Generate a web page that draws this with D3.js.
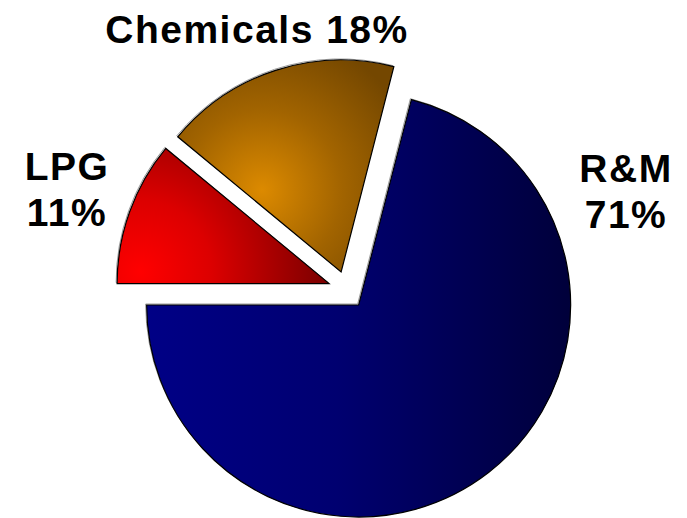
<!DOCTYPE html>
<html>
<head>
<meta charset="utf-8">
<script src="https://cdn.jsdelivr.net/npm/d3@7"></script>
<style>
  html, body { margin: 0; padding: 0; background: #fff; }
  svg { display: block; }
  text { font-family: "Liberation Sans", Arial, sans-serif; font-weight: bold; fill: #000; }
</style>
</head>
<body>
<svg id="chart" width="687" height="518"></svg>
<script>
// Business segments and their share of the total (%)
const segments = ["R&M", "LPG", "Chemicals"];
const shares = [71, 11, 18];
const labelLines = [["R&M", "71%"], ["LPG", "11%"], ["Chemicals 18%"]];

const cx = 347, cy = 290, radius = 212, explode = 19;
const deg = Math.PI / 180;
const start = 14.4 * deg;

const svg = d3.select("#chart");
const defs = svg.append("defs");

const pie = d3.pie().sort(null).value(d => d)
  .startAngle(start).endAngle(start + 2 * Math.PI);
const arc = d3.arc().innerRadius(0).outerRadius(radius);
const arcs = pie(shares);

const offset = d => {
  const mid = (d.startAngle + d.endAngle) / 2;
  return [Math.sin(mid) * explode, -Math.cos(mid) * explode];
};

// Shading for each slice, given in page coordinates and moved into the slice's own frame
const shading = [
  { type: "linear", x1: 146, y1: 0, x2: 572, y2: 0,
    stops: [[0, "#000086"], [0.45, "#000070"], [1, "#00003a"]] },
  { type: "radial", cx: 140, cy: 272, r: 205,
    stops: [[0, "#ff0000"], [0.35, "#dc0000"], [1, "#6c0000"]] },
  { type: "radial", cx: 262, cy: 190, r: 160,
    stops: [[0, "#dc8a00"], [0.5, "#a26400"], [1, "#744700"]] }
];

arcs.forEach((d, i) => {
  const o = offset(d);
  const dx = cx + o[0], dy = cy + o[1];
  const s = shading[i];
  const g = defs.append(s.type === "linear" ? "linearGradient" : "radialGradient")
    .attr("id", "shade-" + i)
    .attr("gradientUnits", "userSpaceOnUse");
  if (s.type === "linear") {
    g.attr("x1", s.x1 - dx).attr("y1", s.y1 - dy).attr("x2", s.x2 - dx).attr("y2", s.y2 - dy);
  } else {
    g.attr("cx", s.cx - dx).attr("cy", s.cy - dy).attr("r", s.r);
  }
  s.stops.forEach(([off, col]) => g.append("stop").attr("offset", off).attr("stop-color", col));
});

const slices = svg.append("g").attr("transform", `translate(${cx},${cy})`)
  .selectAll("g.slice").data(arcs).join("g")
  .attr("class", "slice")
  .attr("transform", d => { const o = offset(d); return `translate(${o[0]},${o[1]})`; });

// light bevel line behind each slice outline
slices.append("path")
  .attr("d", arc)
  .attr("transform", "translate(-1,-1)")
  .attr("fill", "none")
  .attr("stroke", "#9a9a9a")
  .attr("stroke-width", 1);

slices.append("path")
  .attr("d", arc)
  .attr("fill", (d, i) => `url(#shade-${i})`)
  .attr("stroke", "#000")
  .attr("stroke-width", 1.2)
  .attr("stroke-linejoin", "miter");

// Segment labels
const labelPos = [[626, 182], [67, 180], [257, 43]];
const lineGap = 46;
labelLines.forEach((lines, i) => {
  const t = svg.append("text")
    .attr("x", labelPos[i][0]).attr("y", labelPos[i][1])
    .attr("text-anchor", "middle")
    .attr("font-size", 39)
    .attr("letter-spacing", 1.5);
  lines.forEach((s, j) => {
    t.append("tspan").attr("x", labelPos[i][0]).attr("dy", j === 0 ? 0 : lineGap).text(s);
  });
});
</script>
</body>
</html>
